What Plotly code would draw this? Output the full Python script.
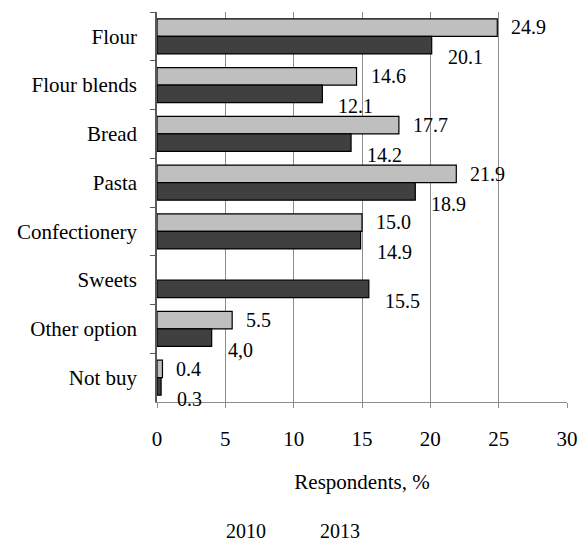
import plotly.graph_objects as go

categories = ["Flour", "Flour blends", "Bread", "Pasta", "Confectionery", "Sweets", "Other option", "Not buy"]
values_2010 = [24.9, 14.6, 17.7, 21.9, 15.0, None, 5.5, 0.4]
values_2013 = [20.1, 12.1, 14.2, 18.9, 14.9, 15.5, 4.0, 0.3]
labels_2010 = ["24.9", "14.6", "17.7", "21.9", "15.0", "", "5.5", "0.4"]
labels_2013 = ["20.1", "12.1", "14.2", "18.9", "14.9", "15.5", "4,0", "0.3"]
x_ticks = [0, 5, 10, 15, 20, 25, 30]

FONT = "Liberation Serif"
FS = 21
FS_LAB = 20

fig = go.Figure()
fig.add_trace(go.Bar(y=categories, x=values_2010, orientation="h", name="2010",
                     marker=dict(color="#BFBFBF", line=dict(color="#000000", width=1.2))))
fig.add_trace(go.Bar(y=categories, x=values_2013, orientation="h", name="2013",
                     marker=dict(color="#404040", line=dict(color="#000000", width=1.2))))

for c, v, t in zip(categories, values_2010, labels_2010):
    if v is not None and t:
        fig.add_annotation(x=v, y=c, text=t, showarrow=False, xanchor="left", yanchor="middle",
                           xshift=12, yshift=9, font=dict(family=FONT, size=FS_LAB, color="#000"))
for c, v, t in zip(categories, values_2013, labels_2013):
    if v is not None and t:
        fig.add_annotation(x=v, y=c, text=t, showarrow=False, xanchor="left", yanchor="middle",
                           xshift=14, yshift=-21, font=dict(family=FONT, size=FS_LAB, color="#000"))

fig.update_layout(
    width=580, height=544,
    margin=dict(l=157, r=13, t=12, b=142),
    paper_bgcolor="white", plot_bgcolor="white",
    barmode="group", bargap=0.28, bargroupgap=0,
    showlegend=False,
    font=dict(family=FONT, size=FS, color="#000"),
    xaxis=dict(range=[0, 30], tickvals=x_ticks, showgrid=True, gridcolor="#8C8C8C", gridwidth=1,
               showline=True, linecolor="#8C8C8C", linewidth=1, ticks="outside", ticklen=5,
               tickcolor="#8C8C8C", ticklabelstandoff=13, zeroline=False, automargin=False,
               tickfont=dict(family=FONT, size=FS),
               title=dict(text="Respondents, %", standoff=24, font=dict(family=FONT, size=FS))),
    yaxis=dict(range=[len(categories) - 0.5, -0.5], showline=True, linecolor="#595959", linewidth=1.5,
               ticks="outside", ticklen=5, tickcolor="#595959", tickson="boundaries",
               ticklabelstandoff=14, showgrid=False, automargin=False,
               tickfont=dict(family=FONT, size=FS)),
)
# legend-like text under the chart
fig.add_annotation(x=0, y=0, xref="paper", yref="paper", text="2010", showarrow=False,
                   xanchor="center", yanchor="middle", xshift=246 - 157, yshift=-(531 - 402),
                   font=dict(family=FONT, size=FS_LAB, color="#000"))
fig.add_annotation(x=0, y=0, xref="paper", yref="paper", text="2013", showarrow=False,
                   xanchor="center", yanchor="middle", xshift=340 - 157, yshift=-(531 - 402),
                   font=dict(family=FONT, size=FS_LAB, color="#000"))

fig.write_html("out.html", config={"displayModeBar": False},
               post_script="document.body.style.margin='0';document.body.style.overflow='hidden';")
